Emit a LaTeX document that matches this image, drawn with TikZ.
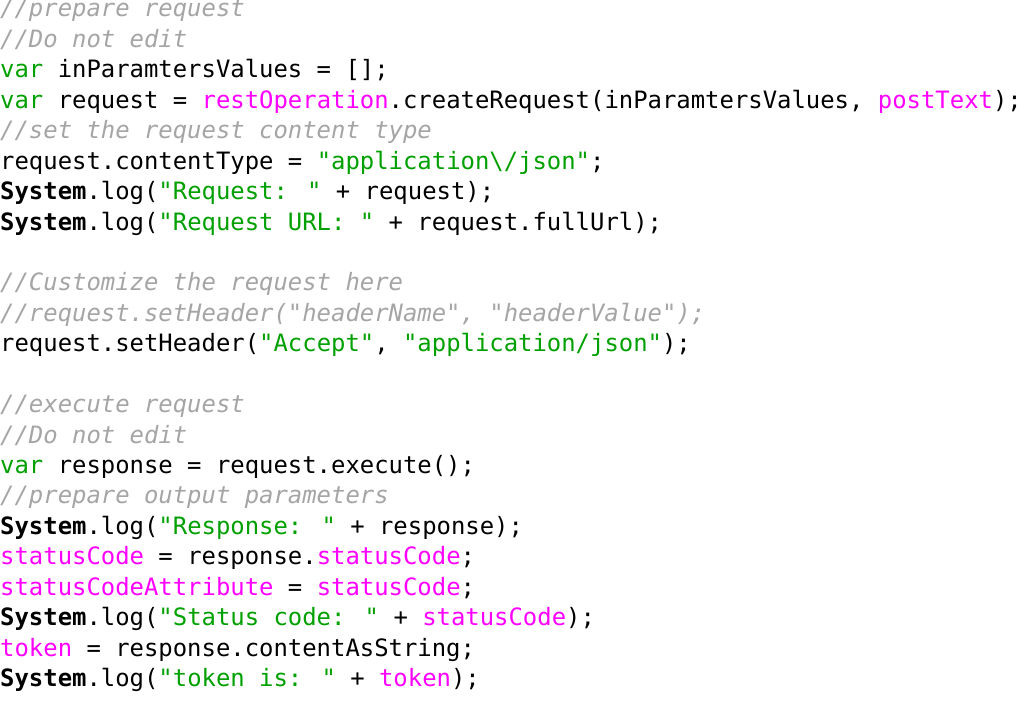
\documentclass[tikz,border=0pt]{standalone}
\usepackage{fontspec}
\newfontfamily\code{DejaVu Sans Mono}
\definecolor{cg}{RGB}{0,160,0}
\definecolor{cm}{RGB}{255,0,255}
\definecolor{cc}{RGB}{165,165,165}
\newcommand\Cm[1]{\textcolor{cc}{\itshape #1}}
\newcommand\Gr[1]{\textcolor{cg}{#1}}
\newcommand\Mg[1]{\textcolor{cm}{#1}}
\newcommand\Sy{\textbf{System}}
\tikzset{codeline/.style={anchor=base west,inner sep=0pt,font=\code\fontsize{23.9pt}{30pt}\selectfont}}
\begin{document}
\begin{tikzpicture}[x=1pt,y=1pt]
\useasboundingbox (0,0) rectangle (1024,707);
\def\L#1#2#3{\node[codeline] (#1) at (0,{707-17-30.43*(#2)}) {#3};}
\L{l1}{0}{\Cm{//prepare request}}
\L{l2}{1}{\Cm{//Do not edit}}
\L{l3}{2}{\Gr{var} inParamtersValues = [];}
\L{l4}{3}{\Gr{var} request = \Mg{restOperation}.createRequest(inParamtersValues, \Mg{postText});}
\L{l5}{4}{\Cm{//set the request content type}}
\L{l6}{5}{request.contentType = \Gr{"application\textbackslash/json"};}
\L{l7}{6}{\Sy.log(\Gr{"Request: "} + request);}
\L{l8}{7}{\Sy.log(\Gr{"Request URL: "} + request.fullUrl);}
\L{l9}{9}{\Cm{//Customize the request here}}
\L{l10}{10}{\Cm{//request.setHeader("headerName", "headerValue");}}
\L{l11}{11}{request.setHeader(\Gr{"Accept"}, \Gr{"application/json"});}
\L{l12}{13}{\Cm{//execute request}}
\L{l13}{14}{\Cm{//Do not edit}}
\L{l14}{15}{\Gr{var} response = request.execute();}
\L{l15}{16}{\Cm{//prepare output parameters}}
\L{l16}{17}{\Sy.log(\Gr{"Response: "} + response);}
\L{l17}{18}{\Mg{statusCode} = response.\Mg{statusCode};}
\L{l18}{19}{\Mg{statusCodeAttribute} = \Mg{statusCode};}
\L{l19}{20}{\Sy.log(\Gr{"Status code: "} + \Mg{statusCode});}
\L{l20}{21}{\Mg{token} = response.contentAsString;}
\L{l21}{22}{\Sy.log(\Gr{"token is: "} + \Mg{token});}
\end{tikzpicture}
\end{document}
